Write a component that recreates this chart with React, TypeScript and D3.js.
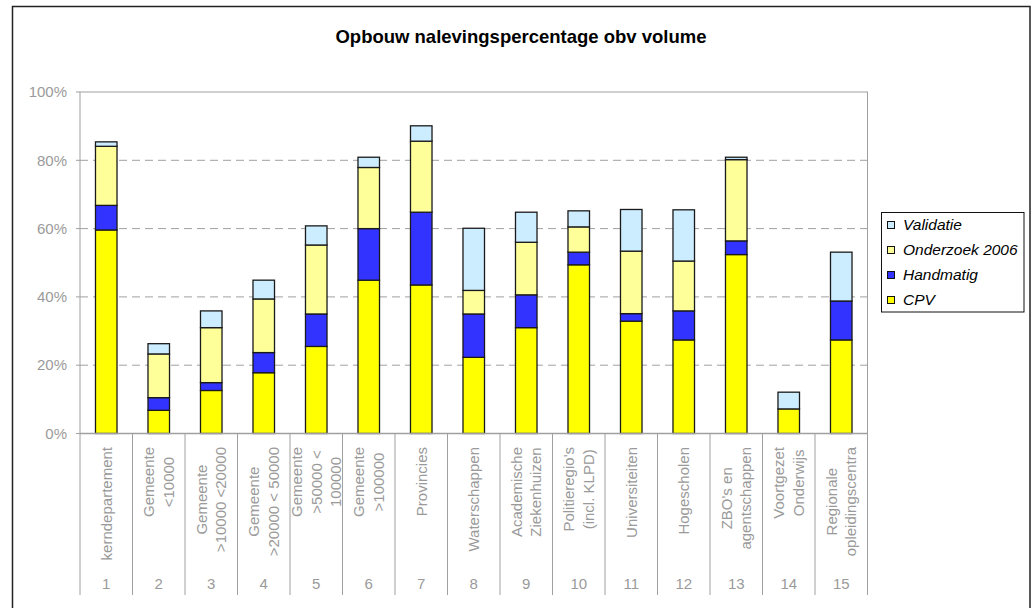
import * as d3 from "d3";
import React from "react";

// category numbers and their (multi-line) names
const categories = ["1", "2", "3", "4", "5", "6", "7", "8", "9", "10", "11", "12", "13", "14", "15"];
const labels = [
  "kerndepartement",
  "Gemeente\n<10000",
  "Gemeente\n>10000 <20000",
  "Gemeente\n>20000 < 50000",
  "Gemeente\n>50000 <\n100000",
  "Gemeente\n>100000",
  "Provincies",
  "Waterschappen",
  "Academische\nZiekenhuizen",
  "Politieregio's\n(incl. KLPD)",
  "Universiteiten",
  "Hogescholen",
  "ZBO's en\nagentschappen",
  "Voortgezet\nOnderwijs",
  "Regionale\nopleidingscentra",
];

// series values in percent, bottom to top
const seriesNames = ["CPV", "Handmatig", "Onderzoek 2006", "Validatie"];
const cpv = [59.6, 6.8, 12.6, 17.8, 25.5, 44.9, 43.5, 22.3, 31.0, 49.4, 32.9, 27.4, 52.4, 7.2, 27.4];
const handmatig = [7.2, 3.7, 2.3, 5.9, 9.5, 15.1, 21.3, 12.7, 9.6, 3.7, 2.2, 8.5, 4.0, 0, 11.4];
const onderzoek = [17.3, 12.8, 16.1, 15.7, 20.2, 17.9, 20.8, 6.9, 15.4, 7.4, 18.3, 14.6, 23.8, 0, 0];
const validatie = [1.3, 3.0, 4.9, 5.5, 5.6, 3.0, 4.5, 18.2, 8.8, 4.7, 12.2, 15.0, 0.7, 4.9, 14.3];
const seriesColors = ["#ffff00", "#3333ff", "#ffff99", "#ccecff"];

const yTicks = [0, 20, 40, 60, 80, 100];

const font = "'Liberation Sans', Arial, sans-serif";
const grey = "#9a9a9a";

export default function App() {
  const ref = React.useRef<SVGSVGElement>(null);

  React.useEffect(() => {
    const width = 1035;
    const height = 608;
    const left = 80;
    const right = 867.5;
    const top = 92;
    const bottom = 433.5;

    const svg = d3.select(ref.current);
    svg.selectAll("*").remove();
    svg.attr("width", width).attr("height", height).style("font-family", font);

    // outer frame
    svg
      .append("rect")
      .attr("x", 12.5)
      .attr("y", 6.5)
      .attr("width", 1017.5)
      .attr("height", 700)
      .attr("fill", "white")
      .attr("stroke", "#222")
      .attr("stroke-width", 1.5);

    svg
      .append("text")
      .attr("x", 521)
      .attr("y", 43)
      .attr("text-anchor", "middle")
      .attr("font-weight", "bold")
      .attr("font-size", 18.5)
      .text("Opbouw nalevingspercentage obv volume");

    const x = d3
      .scaleBand<string>()
      .domain(categories)
      .range([left, right])
      .paddingInner(0.59)
      .paddingOuter(0.295);
    const step = x.step();
    const y = d3.scaleLinear().domain([0, 100]).range([bottom, top]);

    // plot area
    svg
      .append("rect")
      .attr("x", left)
      .attr("y", top)
      .attr("width", right - left)
      .attr("height", bottom - top)
      .attr("fill", "none")
      .attr("stroke", "#a0a0a0");

    const yAxis = svg.append("g");
    yAxis
      .selectAll("line.grid")
      .data(yTicks.filter((t) => t > 0 && t < 100))
      .join("line")
      .attr("class", "grid")
      .attr("x1", left)
      .attr("x2", right)
      .attr("y1", (d) => y(d))
      .attr("y2", (d) => y(d))
      .attr("stroke", "#a0a0a0")
      .attr("stroke-dasharray", "8,5");
    yAxis
      .selectAll("line.tick")
      .data(yTicks)
      .join("line")
      .attr("class", "tick")
      .attr("x1", left - 4)
      .attr("x2", left)
      .attr("y1", (d) => y(d))
      .attr("y2", (d) => y(d))
      .attr("stroke", "#a0a0a0");
    yAxis
      .selectAll("text")
      .data(yTicks)
      .join("text")
      .attr("x", 67)
      .attr("y", (d) => y(d))
      .attr("dy", "0.35em")
      .attr("text-anchor", "end")
      .attr("font-size", 15)
      .attr("fill", grey)
      .text((d) => `${d}%`);

    // stacked bars
    const rows = categories.map((c, i) => ({
      cat: c,
      CPV: cpv[i],
      Handmatig: handmatig[i],
      "Onderzoek 2006": onderzoek[i],
      Validatie: validatie[i],
    }));
    const stacked = d3.stack<any>().keys(seriesNames)(rows);
    stacked.forEach((layer, li) => {
      svg
        .append("g")
        .attr("fill", seriesColors[li])
        .attr("stroke", "#1a1a1a")
        .attr("stroke-width", 1.3)
        .selectAll("rect")
        .data(layer.filter((d) => d[1] - d[0] > 0))
        .join("rect")
        .attr("x", (d) => x(d.data.cat) as number)
        .attr("width", x.bandwidth())
        .attr("y", (d) => y(d[1]))
        .attr("height", (d) => y(d[0]) - y(d[1]));
    });

    // category axis
    const xAxis = svg.append("g");
    xAxis
      .append("line")
      .attr("x1", left)
      .attr("x2", right)
      .attr("y1", bottom)
      .attr("y2", bottom)
      .attr("stroke", "#a0a0a0")
      .attr("stroke-width", 1.5);
    xAxis
      .selectAll("line.sep")
      .data(d3.range(categories.length + 1))
      .join("line")
      .attr("class", "sep")
      .attr("x1", (i) => left + i * step)
      .attr("x2", (i) => left + i * step)
      .attr("y1", bottom)
      .attr("y2", 595)
      .attr("stroke", "#a0a0a0");
    xAxis
      .selectAll("text.num")
      .data(categories)
      .join("text")
      .attr("class", "num")
      .attr("x", (d) => (x(d) as number) + x.bandwidth() / 2)
      .attr("y", 589)
      .attr("text-anchor", "middle")
      .attr("font-size", 15)
      .attr("fill", grey)
      .text((d) => d);

    const lh = 19.5;
    const fs = 15;
    categories.forEach((c, i) => {
      const cx = (x(c) as number) + x.bandwidth() / 2;
      const lines = labels[i].split("\n");
      const g = xAxis.append("g");
      const texts = lines.map((ln, k) =>
        g
          .append("text")
          .attr("text-anchor", "middle")
          .attr("font-size", fs)
          .attr("fill", grey)
          .attr("y", (k - (lines.length - 1) / 2) * lh + fs * 0.36)
          .text(ln)
      );
      const maxLen = d3.max(texts, (t) => (t.node() as SVGTextElement).getComputedTextLength()) ?? 0;
      g.attr("transform", `translate(${cx},${447 + maxLen / 2}) rotate(-90)`);
    });

    // legend
    const legend = svg.append("g");
    legend
      .append("rect")
      .attr("x", 881.5)
      .attr("y", 212.5)
      .attr("width", 142.5)
      .attr("height", 99.5)
      .attr("fill", "white")
      .attr("stroke", "#111");
    const order = [3, 2, 1, 0];
    order.forEach((si, k) => {
      const cy = 225 + k * 25;
      legend
        .append("rect")
        .attr("x", 887.5)
        .attr("y", cy - 3.5)
        .attr("width", 7)
        .attr("height", 7)
        .attr("fill", seriesColors[si])
        .attr("stroke", "#111");
      legend
        .append("text")
        .attr("x", 903)
        .attr("y", cy)
        .attr("dy", "0.35em")
        .attr("font-size", 15.5)
        .attr("font-style", "italic")
        .text(seriesNames[si]);
    });
  }, []);

  return (
    <div style={{ position: "absolute", left: 0, top: 0 }}>
      <svg ref={ref} width={1035} height={608} />
    </div>
  );
}
